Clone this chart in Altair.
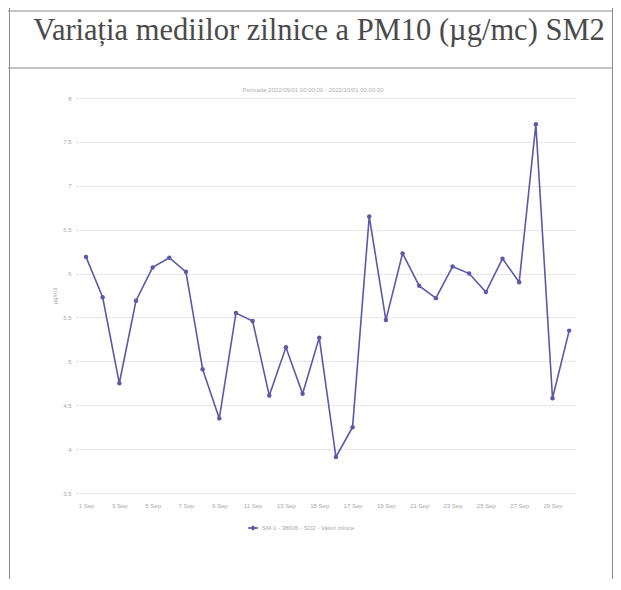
import altair as alt
import pandas as pd

# ---- data ----
days = list(range(1, 31))
values = [6.19, 5.73, 4.75, 5.69, 6.07, 6.18, 6.02, 4.91, 4.35, 5.55,
          5.46, 4.61, 5.16, 4.63, 5.27, 3.91, 4.25, 6.65, 5.47, 6.23,
          5.86, 5.72, 6.08, 6.00, 5.79, 6.17, 5.90, 7.70, 4.58, 5.35]
x_tick_days = [1, 3, 5, 7, 9, 11, 13, 15, 17, 19, 21, 23, 25, 27, 29]
y_ticks = [3.5, 4, 4.5, 5, 5.5, 6, 6.5, 7, 7.5, 8]

title_text = "Variația mediilor zilnice a PM10 (µg/mc) SM2"
subtitle_text = "Perioada 2022/09/01 00:00:00 - 2022/10/01 00:00:00"
legend_text = "SM-1 - 38606 - SO2 - Valori zilnice"
y_title = "µg/m3"

df = pd.DataFrame({"day": days, "value": values})
one = pd.DataFrame({"k": [0]})

LINE = "#5b59a8"
W, H = 499, 395

x_enc = alt.X("day:Q",
              scale=alt.Scale(domain=[0.4, 30.35], nice=False, zero=False),
              axis=alt.Axis(values=x_tick_days, labelExpr="datum.value + ' Sep'",
                            grid=False, domain=False, ticks=False, labelOverlap=False,
                            labelFontSize=6, labelColor="#a8a8a8", labelFlush=False,
                            labelPadding=9, title=None, labelFont="Liberation Sans"))
y_enc = alt.Y("value:Q",
              scale=alt.Scale(domain=[3.5, 8], nice=False, zero=False),
              axis=alt.Axis(values=y_ticks, format=".1~f", grid=True,
                            gridDash=[2, 2], gridColor="#d2d2d2", gridWidth=1,
                            domain=False, ticks=False, labelFontSize=6, labelOverlap=False,
                            labelColor="#a8a8a8", labelPadding=5, title=None,
                            labelFont="Liberation Sans"))

base = alt.Chart(df)
line = base.mark_line(color=LINE, strokeWidth=1.6).encode(x=x_enc, y=y_enc)
pts = base.mark_circle(color=LINE, size=20, opacity=1).encode(x=x_enc, y=y_enc)

def hrule(x1, x2, y, color="#8a8a8a", w=1):
    return alt.Chart(one).mark_rule(color=color, strokeWidth=w).encode(
        x=alt.value(x1), x2=alt.value(x2), y=alt.value(y))

def vrule(x, y1, y2, color="#8a8a8a", w=1):
    return alt.Chart(one).mark_rule(color=color, strokeWidth=w).encode(
        x=alt.value(x), y=alt.value(y1), y2=alt.value(y2))

def txt(s, x, y, size, color, font="Liberation Sans", align="center",
        baseline="middle", angle=0):
    return alt.Chart(one).mark_text(text=s, fontSize=size, color=color, font=font,
                                    align=align, baseline=baseline, angle=angle).encode(
        x=alt.value(x), y=alt.value(y))

title = txt(title_text, 243, -58, 30.5, "#4a4a4a", font="Liberation Serif",
            baseline="alphabetic")
subtitle = txt(subtitle_text, 237, -8, 6, "#b0b0b0")
ytitle = txt(y_title, -21, 198, 6, "#a8a8a8", angle=270)
leg_line = alt.Chart(one).mark_rule(color=LINE, strokeWidth=1.6).encode(
    x=alt.value(172), x2=alt.value(182), y=alt.value(430))
leg_pt = alt.Chart(one).mark_point(shape="diamond", filled=True, color=LINE,
                                   size=30, opacity=1).encode(
    x=alt.value(177), y=alt.value(430))
leg_txt = txt(legend_text, 186, 430, 6, "#a8a8a8", align="left")

borders = [
    vrule(-66.5, -98, 500),
    vrule(536.5, -98, 500),
    hrule(-80, 560, -87),
    hrule(-80, 560, -30),
]

chart = alt.layer(
    *borders, line, pts, title, subtitle, ytitle, leg_line, leg_pt, leg_txt
).properties(
    width=W, height=H,
    padding={"left": 68, "top": 90, "right": 38, "bottom": 86},
    autosize=alt.AutoSizeParams(type="none"),
    background="#ffffff",
).configure_view(stroke=None).configure_axisX(labelOverlap=False)

chart.save("out.html", embed_options={"renderer": "svg", "actions": False})
